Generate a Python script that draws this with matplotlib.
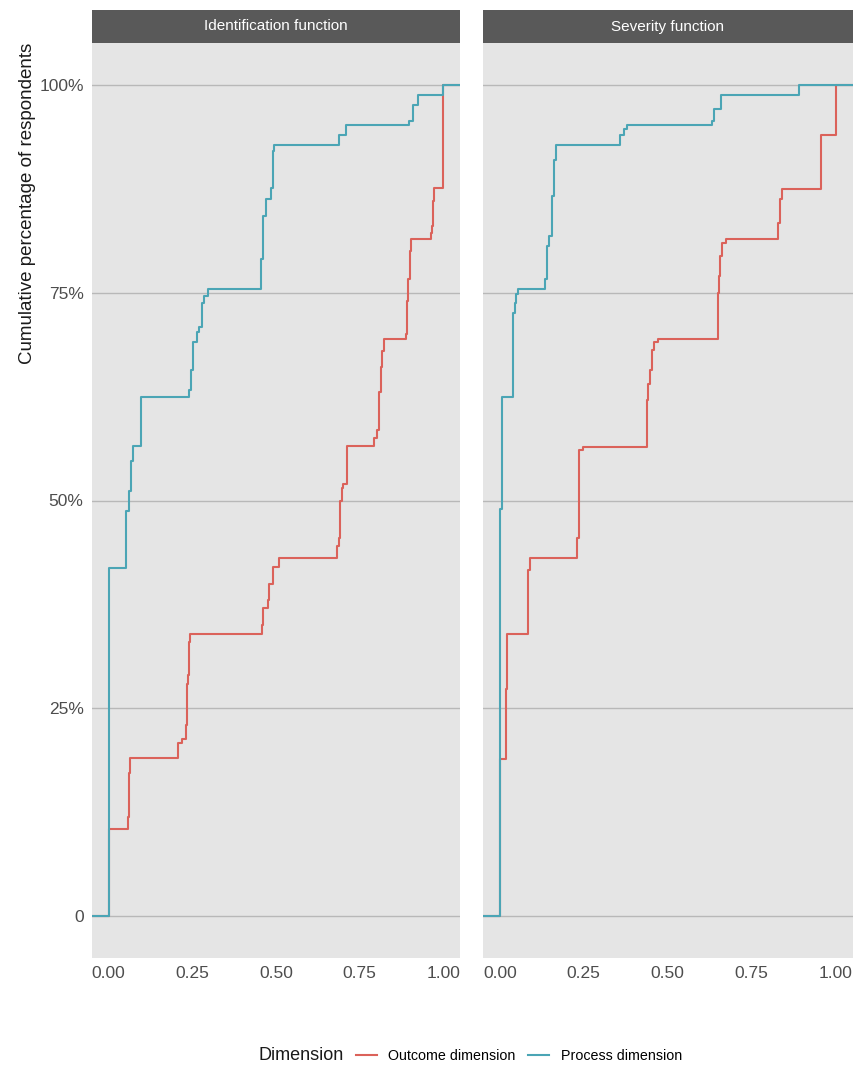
import numpy as np
import matplotlib
matplotlib.use("Agg")
import matplotlib.pyplot as plt
from matplotlib.lines import Line2D

plt.rcParams["font.family"] = ["Liberation Sans", "DejaVu Sans"]

panels = ["Identification function", "Severity function"]
series = ["Outcome dimension", "Process dimension"]
colors = {"Outcome dimension": "#DB625A", "Process dimension": "#4BA5B5"}

# step points (score, cumulative share after the step)
ident_outcome_x = [0.0, 0.057, 0.060, 0.064, 0.208, 0.220, 0.232, 0.234, 0.236, 0.240, 0.243,
                   0.457, 0.462, 0.475, 0.480, 0.490, 0.510, 0.682, 0.687, 0.690, 0.697,
                   0.701, 0.711, 0.793, 0.803, 0.808, 0.813, 0.818, 0.823, 0.888, 0.893,
                   0.896, 0.900, 0.904, 0.963, 0.966, 0.970, 0.973, 1.0]
ident_outcome_y = [0.105, 0.120, 0.173, 0.190, 0.209, 0.213, 0.230, 0.280, 0.290, 0.330, 0.339,
                   0.350, 0.371, 0.380, 0.400, 0.420, 0.431, 0.445, 0.455, 0.500, 0.515,
                   0.520, 0.565, 0.575, 0.585, 0.630, 0.660, 0.680, 0.694, 0.700, 0.740,
                   0.766, 0.800, 0.814, 0.822, 0.830, 0.860, 0.876, 1.0]

ident_process_x = [0.0, 0.052, 0.062, 0.068, 0.073, 0.096, 0.240, 0.246, 0.251, 0.265, 0.271,
                   0.278, 0.285, 0.298, 0.454, 0.462, 0.469, 0.485, 0.490, 0.494, 0.689,
                   0.709, 0.898, 0.911, 0.924, 1.0]
ident_process_y = [0.419, 0.487, 0.512, 0.547, 0.565, 0.625, 0.633, 0.657, 0.690, 0.702, 0.709,
                   0.738, 0.746, 0.754, 0.790, 0.842, 0.863, 0.876, 0.920, 0.927, 0.939,
                   0.951, 0.956, 0.976, 0.988, 1.0]

sev_outcome_x = [0.0, 0.018, 0.022, 0.084, 0.091, 0.230, 0.236, 0.248, 0.437, 0.442, 0.447,
                 0.454, 0.459, 0.471, 0.650, 0.653, 0.656, 0.662, 0.672, 0.829, 0.834,
                 0.841, 0.955, 1.0]
sev_outcome_y = [0.189, 0.273, 0.339, 0.417, 0.431, 0.455, 0.561, 0.564, 0.621, 0.640, 0.657,
                 0.681, 0.690, 0.694, 0.750, 0.770, 0.794, 0.810, 0.814, 0.834, 0.862,
                 0.875, 0.939, 1.0]

sev_process_x = [0.0, 0.002, 0.006, 0.008, 0.040, 0.044, 0.049, 0.054, 0.136, 0.142, 0.146,
                 0.154, 0.161, 0.167, 0.357, 0.370, 0.380, 0.632, 0.638, 0.658, 0.890]
sev_process_y = [0.420, 0.490, 0.565, 0.625, 0.726, 0.738, 0.748, 0.754, 0.766, 0.806, 0.818,
                 0.866, 0.909, 0.927, 0.939, 0.947, 0.951, 0.956, 0.971, 0.988, 1.0]

data = {
    "Identification function": {
        "Outcome dimension": (ident_outcome_x, ident_outcome_y),
        "Process dimension": (ident_process_x, ident_process_y),
    },
    "Severity function": {
        "Outcome dimension": (sev_outcome_x, sev_outcome_y),
        "Process dimension": (sev_process_x, sev_process_y),
    },
}

fig = plt.figure(figsize=(8.56, 10.67), dpi=100)
W, H = 856, 1067
panel_px = [(92, 460), (483, 852.5)]
top, bottom = 43, 958
xlim = (-0.05, 1.05)
ylim = (-0.05, 1.05)

for i, name in enumerate(panels):
    x0, x1 = panel_px[i]
    ax = fig.add_axes([x0 / W, 1 - bottom / H, (x1 - x0) / W, (bottom - top) / H])
    ax.set_facecolor("#E5E5E5")
    for s in ax.spines.values():
        s.set_visible(False)
    ax.set_xlim(*xlim)
    ax.set_ylim(*ylim)
    ax.set_yticks([0, 0.25, 0.5, 0.75, 1.0])
    ax.set_xticks([0, 0.25, 0.5, 0.75, 1.0])
    ax.set_xticklabels(["0.00", "0.25", "0.50", "0.75", "1.00"])
    if i == 0:
        ax.set_yticklabels(["0", "25%", "50%", "75%", "100%"])
        ax.set_ylabel("Cumulative percentage of respondents", fontsize=13.5, color="#1A1A1A",
                      loc="top", labelpad=2)
    else:
        ax.set_yticklabels([])
    ax.tick_params(length=0, labelsize=12.5, colors="#4D4D4D", pad=6)
    ax.grid(axis="y", color="#B8B8B8", linewidth=1.0)
    ax.set_axisbelow(True)

    for ser in series:
        xs, ys = data[name][ser]
        xs = [xlim[0]] + list(xs) + [xlim[1]]
        ys = [0.0] + list(ys) + [ys[-1]]
        ax.step(xs, ys, where="post", color=colors[ser], linewidth=1.5)

    # facet strip
    sax = fig.add_axes([x0 / W, 1 - top / H, (x1 - x0) / W, 33 / H])
    sax.set_facecolor("#595959")
    sax.set_xticks([])
    sax.set_yticks([])
    for s in sax.spines.values():
        s.set_visible(False)
    sax.text(0.5, 0.5, name, ha="center", va="center", color="white", fontsize=11,
             transform=sax.transAxes)

# legend
fig.text(258 / W, 1 - 1056 / H, "Dimension", ha="left", va="center", fontsize=13, color="#1A1A1A")
handles = [Line2D([0], [0], color=colors[s], linewidth=1.5) for s in series]
fig.legend(handles, series, loc="center left", bbox_to_anchor=(356 / W, 1 - 1056 / H),
           ncol=2, frameon=False, fontsize=10.3, handlelength=1.45, columnspacing=0.9,
           handletextpad=0.8, borderpad=0, borderaxespad=0)

fig.savefig("out.png", dpi=100)
